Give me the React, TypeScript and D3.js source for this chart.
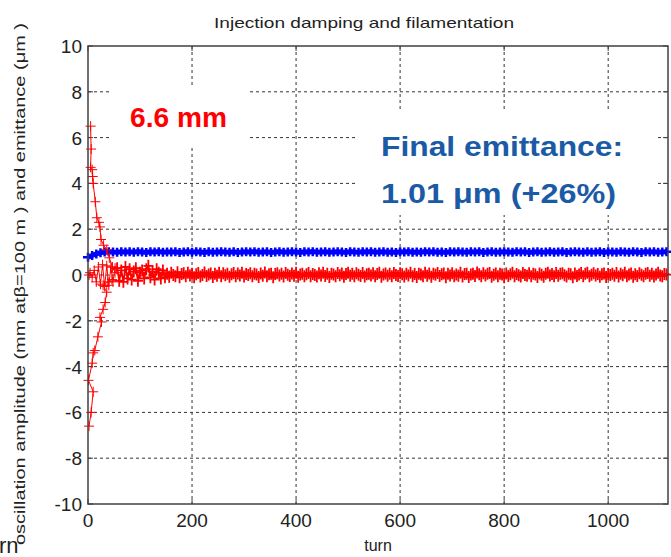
import React, { useRef, useEffect } from 'react';
import * as d3 from 'd3';

// x ticks (turn) and y ticks (mm / um)
const xTicks = [0, 200, 400, 600, 800, 1000];
const yTicks = [-10, -8, -6, -4, -2, 0, 2, 4, 6, 8, 10];

// injected oscillation, upper envelope branch
const upperTurns = [5, 6, 5, 8, 9, 10, 14, 17, 21, 23, 25, 30, 36, 41, 47, 52];
const upperValues = [6.5, 5.5, 4.7, 4.6, 4.3, 4.0, 3.2, 2.5, 2.3, 2.1, 1.55, 1.3, 1.1, 0.75, 0.35, 0.1];

// injected oscillation, lower envelope branch
const lowerTurns = [2, 6, 10, 1, 8, 10, 13, 19, 26, 23, 29, 33, 36, 29, 38, 46];
const lowerValues = [-6.6, -6.0, -5.1, -4.6, -3.85, -3.4, -3.3, -2.7, -2.05, -1.85, -1.5, -1.2, -0.75, -0.45, -0.3, -0.2];

// filamented centroid near zero
const earlyTurns = [2, 4, 8, 12, 16, 20, 24, 28, 32, 36, 40, 44, 48, 52, 56];
const earlyValues = [0.0, 0.1, -0.1, 0.2, -0.3, 0.35, -0.4, 0.45, -0.5, 0.4, -0.45, 0.35, -0.3, 0.3, 0.3];

const tailStart = 56;
const tailStep = 4;
const tailValues = [
  0.3, -0.25, 0.2, -0.3, 0.35, -0.15, 0.25, -0.2, 0.15, 0.3, -0.25, 0.1,
  0.2, -0.15, 0.25, 0.4, -0.1, 0.15, -0.2, 0.25, 0.1, -0.15, 0.2, -0.1,
  0.05, -0.08, 0.1, 0.0, -0.05, 0.12, -0.1, 0.04, 0.08, -0.06,
  0.1, -0.02, 0.06, -0.1, 0.03, 0.09, -0.07, 0.0, 0.11, -0.04,
  0.02, 0.07, -0.09, 0.05, -0.03, 0.1, -0.06, 0.08, -0.01, 0.06,
  -0.08, 0.03, 0.09, -0.05, 0.07, -0.02, 0.1, -0.07, 0.04, 0.0,
  0.08, -0.06, 0.05, 0.02, -0.09, 0.07, -0.03, 0.11, -0.05, 0.03,
  0.06, -0.1, 0.04, 0.08, -0.02, 0.05, -0.07, 0.09, 0.01, -0.04,
  0.07, -0.03, 0.1, -0.08, 0.02, 0.06, -0.05, 0.03, 0.09, -0.06,
  0.04, 0.0, -0.07, 0.08, -0.02, 0.1, -0.04, 0.05, -0.09, 0.06,
  0.02, -0.05, 0.09, -0.01, 0.07, -0.08, 0.04, 0.1, -0.03, 0.05,
  -0.06, 0.08, 0.01, -0.04, 0.09, -0.07, 0.03, 0.06, -0.02, 0.08,
  -0.05, 0.04, 0.1, -0.08, 0.02, 0.07, -0.03, 0.05, -0.06, 0.09,
  0.0, -0.04, 0.08, 0.03, -0.07, 0.06, -0.02, 0.1, -0.05, 0.04,
  -0.09, 0.06, 0.02, -0.05, 0.1, -0.03, 0.07, -0.08, 0.05, 0.01,
  0.09, -0.04, 0.03, 0.07, -0.1, 0.05, -0.02, 0.08, -0.06, 0.02,
  -0.03, 0.1, -0.07, 0.04, 0.06, -0.09, 0.02, 0.05, -0.04, 0.11,
  0.03, -0.06, 0.08, -0.02, 0.05, 0.09, -0.08, 0.01, 0.07, -0.05,
  0.06, 0.02, -0.1, 0.07, -0.04, 0.03, 0.1, -0.06, 0.04, -0.01,
  -0.07, 0.09, 0.0, -0.03, 0.08, -0.05, 0.06, 0.02, -0.09, 0.07,
  0.01, -0.08, 0.05, 0.1, -0.02, 0.04, -0.06, 0.09, -0.03, 0.06,
  0.08, -0.01, -0.07, 0.05, 0.03, -0.1, 0.07, -0.04, 0.02, 0.09,
  -0.05, 0.06, 0.1, -0.06, 0.01, 0.08, -0.02, 0.04, -0.08, 0.03,
  0.07, -0.09, 0.04, 0.0, 0.06, -0.03, 0.09, -0.07, 0.05, -0.01,
  0.1, -0.05, 0.02, 0.07, -0.08, 0.03, -0.04, 0.08, 0.01, -0.06,
  0.05, 0.09, -0.03, 0.06, -0.07, 0.02, 0.1, -0.02, -0.05, 0.04,
  0.02,
];

// emittance (um), one sample every 8 turns
const emitStep = 8;
const emitValues = [
  0.78, 0.85, 0.92, 0.97, 1.0, 1.02, 1.0, 0.99, 1.01, 1.0,
  1.01, 0.99, 1.02, 1.0, 0.98, 1.01, 1.0, 1.02, 0.99, 1.0,
  1.0, 1.01, 0.98, 1.0, 1.02, 0.99, 1.01, 1.0, 0.98, 1.01,
  0.99, 1.0, 1.02, 1.0, 0.99, 1.01, 0.98, 1.0, 1.01, 1.0,
  1.02, 0.99, 1.0, 1.01, 0.98, 1.0, 1.02, 0.99, 1.0, 1.01,
  1.0, 0.98, 1.01, 1.0, 1.02, 0.99, 1.0, 1.01, 0.99, 1.0,
  1.01, 1.0, 0.98, 1.02, 1.0, 0.99, 1.01, 1.0, 1.02, 0.99,
  1.0, 1.01, 0.99, 1.0, 0.98, 1.01, 1.0, 1.02, 0.99, 1.0,
  0.99, 1.02, 1.0, 1.01, 0.99, 1.0, 0.98, 1.01, 1.0, 1.02,
  1.0, 0.99, 1.01, 1.0, 1.02, 0.98, 1.0, 1.01, 0.99, 1.0,
  1.01, 1.0, 0.99, 1.02, 1.0, 1.01, 0.98, 1.0, 1.01, 0.99,
  1.0, 1.02, 0.99, 1.0, 1.01, 0.98, 1.0, 1.02, 1.0, 0.99,
  1.01, 0.99, 1.0, 1.02, 0.98, 1.01, 1.0, 0.99, 1.01, 1.0,
  0.99, 1.01, 1.0, 0.98, 1.02, 1.0, 1.01, 0.99, 1.0, 1.01,
];

const width = 671;
const height = 557;

function DampingChart() {
  const ref = useRef(null);

  useEffect(() => {
    const svg = d3.select(ref.current);
    svg.selectAll('*').remove();

    const left = 88, right = 668, top = 46, bottom = 504;
    const x = d3.scaleLinear().domain([0, 1115]).range([left, right]);
    const y = d3.scaleLinear().domain([-10, 10]).range([bottom, top]);
    const font = 'Arial, "Liberation Sans", sans-serif';
    const axisColor = '#404040';

    svg.append('rect').attr('width', width).attr('height', height).attr('fill', '#fff');

    // dashed grid
    const grid = svg.append('g').attr('stroke', '#333').attr('stroke-width', 1).attr('stroke-dasharray', '3,3');
    grid.selectAll('line.gx').data(xTicks.slice(1)).join('line')
      .attr('x1', d => x(d)).attr('x2', d => x(d)).attr('y1', top).attr('y2', bottom);
    grid.selectAll('line.gy').data(yTicks.slice(1, -1)).join('line')
      .attr('x1', left).attr('x2', right).attr('y1', d => y(d)).attr('y2', d => y(d));

    // white annotation boxes hide the grid behind the text
    svg.append('rect').attr('x', 111).attr('y', 87).attr('width', 138).attr('height', 61).attr('fill', '#fff');
    svg.append('rect').attr('x', 358).attr('y', 112).attr('width', 297).attr('height', 103).attr('fill', '#fff');

    // ticks
    const ticks = svg.append('g').attr('stroke', axisColor).attr('stroke-width', 1);
    xTicks.forEach(t => {
      ticks.append('line').attr('x1', x(t)).attr('x2', x(t)).attr('y1', bottom).attr('y2', bottom - 5);
      ticks.append('line').attr('x1', x(t)).attr('x2', x(t)).attr('y1', top).attr('y2', top + 5);
    });
    yTicks.forEach(t => {
      ticks.append('line').attr('x1', left).attr('x2', left + 5).attr('y1', y(t)).attr('y2', y(t));
      ticks.append('line').attr('x1', right).attr('x2', right - 5).attr('y1', y(t)).attr('y2', y(t));
    });

    const line = d3.line().x(d => x(d[0])).y(d => y(d[1]));

    // emittance (blue)
    const emit = emitValues.map((v, i) => [i * emitStep, v]);
    svg.append('path').datum(emit).attr('d', line).attr('fill', 'none').attr('stroke', '#0000ff').attr('stroke-width', 5);
    svg.append('g').selectAll('path').data(emit).join('path')
      .attr('transform', d => `translate(${x(d[0])},${y(d[1])})`)
      .attr('d', 'M-5,0H5M0,-4.5V4.5')
      .attr('stroke', '#0000ff').attr('stroke-width', 2.5).attr('fill', 'none');

    // oscillation (red): thin crosses where the beam is still coherent,
    // heavier marks in the dense filamented tail
    const upper = upperTurns.map((t, i) => [t, upperValues[i]]);
    const lower = lowerTurns.map((t, i) => [t, lowerValues[i]]);
    const early = earlyTurns.map((t, i) => [t, earlyValues[i]]);
    const tail = tailValues.map((v, i) => [tailStart + i * tailStep, v]);
    const styles = [
      { data: upper, sw: 1, mark: 'M-5,0H5M0,-5V5' },
      { data: lower, sw: 1, mark: 'M-5,0H5M0,-5V5' },
      { data: early, sw: 1, mark: 'M-5,0H5M0,-5V5' },
      { data: tail, sw: 1.8, mark: 'M-5,0H5M0,-6V6' },
    ];
    styles.forEach(s => {
      svg.append('path').datum(s.data).attr('d', line).attr('fill', 'none').attr('stroke', '#ff0000').attr('stroke-width', s.sw);
      svg.append('g').selectAll('path').data(s.data).join('path')
        .attr('transform', d => `translate(${x(d[0])},${y(d[1])})`)
        .attr('d', s.mark)
        .attr('stroke', '#ff0000').attr('stroke-width', s.sw).attr('fill', 'none');
    });

    // frame
    svg.append('rect').attr('x', left).attr('y', top).attr('width', right - left).attr('height', bottom - top)
      .attr('fill', 'none').attr('stroke', axisColor).attr('stroke-width', 1.5);

    // tick labels
    svg.append('g').selectAll('text').data(xTicks).join('text')
      .attr('x', d => x(d)).attr('y', 527).attr('text-anchor', 'middle')
      .attr('font-family', font).attr('font-size', 19).attr('fill', '#222').text(d => d);
    svg.append('g').selectAll('text').data(yTicks).join('text')
      .attr('x', 82).attr('y', d => y(d) + 7).attr('text-anchor', 'end')
      .attr('font-family', font).attr('font-size', 19).attr('fill', '#222').text(d => d);

    // titles
    svg.append('text').attr('x', 364).attr('y', 28).attr('text-anchor', 'middle')
      .attr('font-family', font).attr('font-size', 15).attr('fill', '#222')
      .attr('textLength', 300).attr('lengthAdjust', 'spacingAndGlyphs')
      .text('Injection damping and filamentation');
    svg.append('text').attr('x', 378).attr('y', 551).attr('text-anchor', 'middle')
      .attr('font-family', font).attr('font-size', 16).attr('fill', '#222').text('turn');
    svg.append('text').attr('transform', 'translate(25,284) rotate(-90)').attr('text-anchor', 'middle')
      .attr('font-family', font).attr('font-size', 15).attr('fill', '#222')
      .attr('textLength', 522).attr('lengthAdjust', 'spacingAndGlyphs')
      .text('oscillation amplitude (mm at\u03B2=100 m ) and emittance (\u03BCm )');
    svg.append('text').attr('x', -1).attr('y', 553)
      .attr('font-family', font).attr('font-size', 22).attr('fill', '#222').text('rn');

    // annotations
    svg.append('text').attr('x', 130).attr('y', 127)
      .attr('font-family', font).attr('font-size', 27).attr('font-weight', 'bold').attr('fill', '#ff0000')
      .attr('textLength', 97).attr('lengthAdjust', 'spacingAndGlyphs').text('6.6 mm');
    svg.append('text').attr('x', 381).attr('y', 156)
      .attr('font-family', font).attr('font-size', 28).attr('font-weight', 'bold').attr('fill', '#1b5aa5')
      .attr('textLength', 242).attr('lengthAdjust', 'spacingAndGlyphs').text('Final emittance:');
    svg.append('text').attr('x', 381).attr('y', 203)
      .attr('font-family', font).attr('font-size', 28).attr('font-weight', 'bold').attr('fill', '#1b5aa5')
      .attr('textLength', 235).attr('lengthAdjust', 'spacingAndGlyphs').text('1.01 \u03BCm (+26%)');
  }, []);

  return (
    <svg ref={ref} width={width} height={height} style={{ position: 'absolute', left: 0, top: 0 }}></svg>
  );
}

export default function App() {
  return <DampingChart />;
}
